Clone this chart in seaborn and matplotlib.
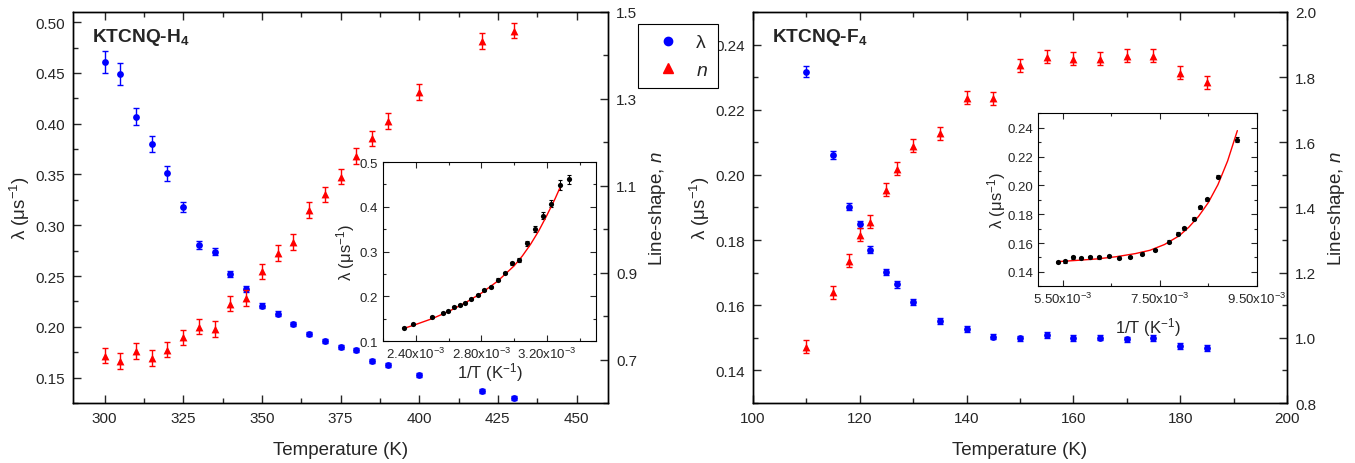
import matplotlib as mpl
mpl.use('Agg')
import matplotlib.pyplot as plt
import seaborn as sns
from matplotlib.ticker import MultipleLocator, FixedLocator, FuncFormatter
from matplotlib.lines import Line2D

sns.set_style('ticks')
plt.rcParams['font.family'] = ['Liberation Sans', 'DejaVu Sans']
plt.rcParams['mathtext.fontset'] = 'custom'
plt.rcParams['mathtext.rm'] = 'Liberation Sans'
plt.rcParams['mathtext.it'] = 'Liberation Sans:italic'
plt.rcParams['mathtext.bf'] = 'Liberation Sans:bold'
plt.rcParams['xtick.direction'] = 'in'
plt.rcParams['ytick.direction'] = 'in'
plt.rcParams['axes.edgecolor'] = 'black'
plt.rcParams['axes.linewidth'] = 1.0

# KTCNQ-H4
T_h4 = [300, 305, 310, 315, 320, 325, 330, 335, 340, 345, 350, 355, 360,
        365, 370, 375, 380, 385, 390, 400, 420, 430]
lam_h4 = [0.461, 0.449, 0.407, 0.380, 0.351, 0.318, 0.281, 0.274, 0.252, 0.237,
          0.221, 0.213, 0.203, 0.193, 0.186, 0.180, 0.177, 0.166, 0.162, 0.153,
          0.137, 0.130]
lam_h4_err = [0.0107, 0.011, 0.0085, 0.008, 0.007, 0.0046, 0.004, 0.0035, 0.003,
              0.003, 0.0025, 0.0022, 0.002, 0.002, 0.002, 0.002, 0.002, 0.002,
              0.002, 0.002, 0.002, 0.002]
n_h4 = [0.709, 0.697, 0.719, 0.703, 0.723, 0.751, 0.776, 0.770, 0.829, 0.841,
        0.903, 0.946, 0.971, 1.044, 1.080, 1.121, 1.169, 1.209, 1.249, 1.316,
        1.433, 1.457]
n_h4_err = [0.018] * len(T_h4)

# KTCNQ-F4
T_f4 = [110, 115, 118, 120, 122, 125, 127, 130, 135, 140, 145, 150, 155, 160,
        165, 170, 175, 180, 185]
lam_f4 = [0.2317, 0.2061, 0.1903, 0.1849, 0.1770, 0.1702, 0.1664, 0.1610, 0.1552,
          0.1527, 0.1504, 0.1498, 0.1510, 0.1500, 0.1501, 0.1495, 0.1500, 0.1474,
          0.1469]
lam_f4_err = [0.0018, 0.0012, 0.0011, 0.0011, 0.0011, 0.001, 0.001, 0.0009, 0.0009,
              0.0009, 0.0009, 0.0009, 0.0009, 0.0009, 0.0009, 0.0009, 0.0009,
              0.0009, 0.0009]
n_f4 = [0.973, 1.140, 1.236, 1.316, 1.356, 1.455, 1.519, 1.590, 1.628, 1.737,
        1.735, 1.836, 1.862, 1.856, 1.856, 1.865, 1.865, 1.813, 1.784]
n_f4_err = [0.02] * len(T_f4)

# fit curves
fit_h4_x = [2.326e-3, 2.40e-3, 2.50e-3, 2.60e-3, 2.70e-3, 2.80e-3, 2.90e-3,
            3.00e-3, 3.05e-3, 3.10e-3, 3.15e-3, 3.20e-3, 3.25e-3, 3.279e-3]
fit_h4_y = [0.128, 0.137, 0.150, 0.166, 0.185, 0.207, 0.234, 0.268, 0.290,
            0.316, 0.346, 0.381, 0.418, 0.442]
fit_f4_x = [5.39e-3, 5.8e-3, 6.2e-3, 6.6e-3, 7.0e-3, 7.3e-3, 7.6e-3, 7.9e-3,
            8.1e-3, 8.3e-3, 8.5e-3, 8.7e-3, 8.9e-3, 9.1e-3]
fit_f4_y = [0.1471, 0.1480, 0.1490, 0.1505, 0.1527, 0.1550, 0.1590, 0.1650,
            0.1710, 0.1785, 0.1880, 0.2005, 0.2170, 0.2380]

TICK = 11
LAB = 13.5
ITICK = 9.5
ILAB = 12


def sci_fmt(v, pos):
    return '%.2fx10$^{-3}$' % (v * 1e3)


def style(ax, top=True):
    ax.tick_params(which='both', direction='in', top=top, labelsize=TICK, pad=6)
    ax.tick_params(which='major', length=6, width=1)
    ax.tick_params(which='minor', length=3.5, width=1)


def panel(rect, T, lam, lam_err, n, n_err, xlim, ylim, nlim,
          xmaj, ymaj, nmaj, nmin, title):
    ax = fig.add_axes(rect)
    ax.errorbar(T, lam, yerr=lam_err, fmt='none', ecolor='blue',
                elinewidth=1, capsize=2.5, capthick=1)
    sns.scatterplot(x=T, y=lam, ax=ax, color='blue', marker='o', s=24,
                    linewidth=0, zorder=3)
    ax.set_xlim(xlim)
    ax.set_ylim(ylim)
    ax.xaxis.set_major_locator(MultipleLocator(xmaj))
    ax.xaxis.set_minor_locator(MultipleLocator(xmaj / 2))
    ax.yaxis.set_major_locator(MultipleLocator(ymaj))
    ax.yaxis.set_minor_locator(MultipleLocator(ymaj / 2))
    ax.set_xlabel('Temperature (K)', fontsize=LAB, labelpad=11)
    ax.set_ylabel('λ (μs$^{-1}$)', fontsize=LAB, labelpad=2)
    style(ax)
    ax2 = ax.twinx()
    ax2.errorbar(T, n, yerr=n_err, fmt='none', ecolor='red',
                 elinewidth=1, capsize=2.5, capthick=1)
    sns.scatterplot(x=T, y=n, ax=ax2, color='red', marker='^', s=32,
                    linewidth=0, zorder=3)
    ax2.set_ylim(nlim)
    ax2.yaxis.set_major_locator(FixedLocator(nmaj))
    ax2.yaxis.set_minor_locator(FixedLocator(nmin))
    ax2.set_ylabel('Line-shape, $n$', fontsize=LAB, labelpad=7)
    style(ax2, top=False)
    ax.text(0.035, 0.965, title, transform=ax.transAxes, fontsize=13.8,
            fontweight='bold', va='top', ha='left')
    return ax, ax2


def inset(rect, T, lam, lam_err, fx, fy, xlim, ylim, xmaj, xmin, ymaj, yfmt,
          xpad, ypad):
    axi = fig.add_axes(rect)
    axi.set_zorder(5)
    axi.set_facecolor('white')
    invT = [1.0 / t for t in T]
    axi.errorbar(invT, lam, yerr=lam_err, fmt='none', ecolor='black',
                 elinewidth=0.8, capsize=1.5, capthick=0.8)
    sns.lineplot(x=fx, y=fy, ax=axi, color='red', linewidth=1, sort=False)
    sns.scatterplot(x=invT, y=lam, ax=axi, color='black', marker='o', s=14,
                    linewidth=0, zorder=3)
    axi.set_xlim(xlim)
    axi.set_ylim(ylim)
    axi.xaxis.set_major_locator(FixedLocator(xmaj))
    axi.xaxis.set_minor_locator(FixedLocator(xmin))
    axi.yaxis.set_major_locator(MultipleLocator(ymaj))
    axi.yaxis.set_minor_locator(MultipleLocator(ymaj / 2))
    axi.xaxis.set_major_formatter(FuncFormatter(sci_fmt))
    axi.yaxis.set_major_formatter(FuncFormatter(lambda v, p: yfmt % v))
    axi.tick_params(which='both', direction='in', top=True, right=True,
                    labelsize=ITICK)
    axi.tick_params(which='major', length=4, width=0.8)
    axi.tick_params(which='minor', length=2.5, width=0.8)
    for s in axi.spines.values():
        s.set_linewidth(0.8)
    axi.set_xlabel('1/T (K$^{-1}$)', fontsize=ILAB, labelpad=xpad)
    axi.set_ylabel('λ (μs$^{-1}$)', fontsize=ILAB, labelpad=ypad)
    return axi


fig = plt.figure(figsize=(13.55, 4.64), dpi=100)

panel([0.0539, 0.1293, 0.3948, 0.8427], T_h4, lam_h4, lam_h4_err, n_h4, n_h4_err,
      (290, 460), (0.125, 0.51), (0.6, 1.5), 25, 0.05,
      [0.7, 0.9, 1.1, 1.3, 1.5], [0.6, 0.8, 1.0, 1.2, 1.4],
      r'KTCNQ-H$_\mathbf{4}$')
panel([0.5557, 0.1293, 0.3941, 0.8427], T_f4, lam_f4, lam_f4_err, n_f4, n_f4_err,
      (100, 200), (0.13, 0.25), (0.8, 2.0), 20, 0.02,
      [0.8, 1.0, 1.2, 1.4, 1.6, 1.8, 2.0], [0.9, 1.1, 1.3, 1.5, 1.7, 1.9],
      r'KTCNQ-F$_\mathbf{4}$')

inset([0.2827, 0.2629, 0.1572, 0.3858], T_h4, lam_h4, lam_h4_err,
      fit_h4_x, fit_h4_y, (2.2e-3, 3.5e-3), (0.1, 0.5),
      [2.4e-3, 2.8e-3, 3.2e-3], [2.2e-3, 2.6e-3, 3.0e-3, 3.4e-3], 0.1, '%.1f',
      -1, 2)
inset([0.7663, 0.3808, 0.1612, 0.3728], T_f4, lam_f4, lam_f4_err,
      fit_f4_x, fit_f4_y, (5.0e-3, 9.5e-3), (0.13, 0.25),
      [5.5e-3, 7.5e-3, 9.5e-3], [6.5e-3, 8.5e-3], 0.02, '%.2f',
      6, 0)

handles = [Line2D([], [], color='blue', marker='o', linestyle='none', markersize=6),
           Line2D([], [], color='red', marker='^', linestyle='none', markersize=6.5)]
leg = fig.legend(handles, ['λ', '$n$'], loc='upper left',
                 bbox_to_anchor=(0.4708, 0.946), borderaxespad=0, fontsize=14,
                 frameon=True, fancybox=False, framealpha=1, edgecolor='black',
                 handlelength=2.1, handletextpad=0.4, borderpad=0.5,
                 labelspacing=0.5)
leg.get_frame().set_linewidth(0.8)

fig.savefig('out.png', dpi=100)
